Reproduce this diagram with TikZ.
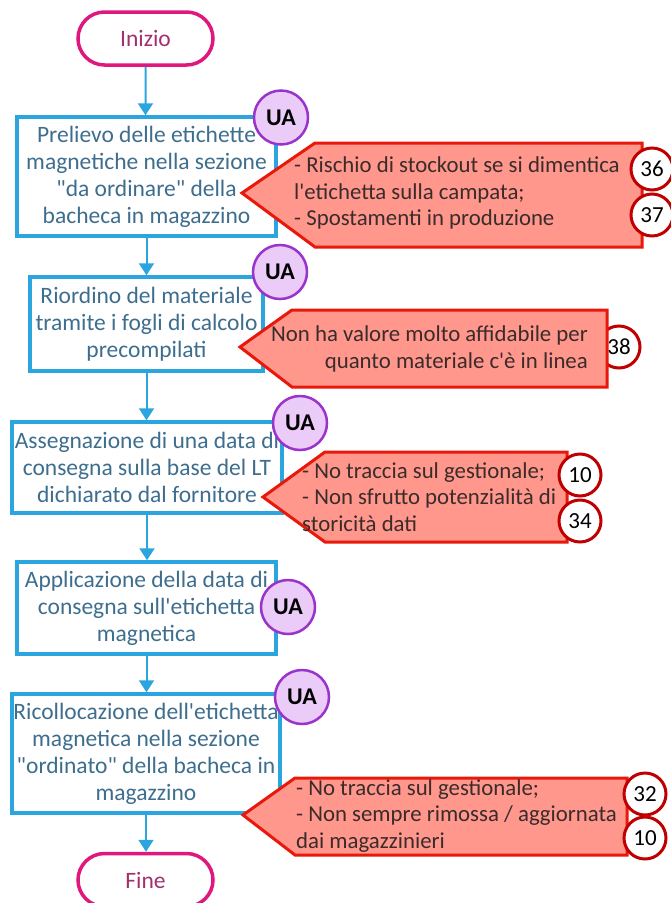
\documentclass[tikz,border=0pt]{standalone}
\usepackage{fontspec}
\setmainfont{Carlito}[Ligatures=TeXOff]
\usetikzlibrary{arrows.meta,shapes.misc}
\definecolor{boxblue}{HTML}{2AA5DF}
\definecolor{boxtext}{HTML}{3E6E8E}
\definecolor{termmag}{HTML}{E0177D}
\definecolor{termtext}{HTML}{A0306E}
\definecolor{uafill}{HTML}{EBCCF8}
\definecolor{uastroke}{HTML}{9933CC}
\definecolor{calfill}{HTML}{FF978C}
\definecolor{calred}{HTML}{E8190B}
\definecolor{caltext}{HTML}{3B2B2B}
\definecolor{numred}{HTML}{C00000}
\begin{document}
\begin{tikzpicture}[x=1pt,y=-1pt,
  stepbox/.style={draw=boxblue, line width=3.5pt, fill=white, text=boxtext, align=center, inner sep=0pt, font=\fontsize{23.5}{27}\selectfont},
  term/.style={draw=termmag, line width=3.5pt, fill=white, rounded rectangle, minimum width=135pt, minimum height=53pt, inner sep=0pt, text=termtext, font=\fontsize{23.5}{27}\selectfont},
  ua/.style={circle, draw=uastroke, fill=uafill, line width=2.5pt, minimum size=54pt, inner sep=0pt, font=\bfseries\fontsize{24}{28}\selectfont},
  num/.style={circle, draw=numred, fill=white, line width=3pt, minimum size=42pt, inner sep=0pt, font=\fontsize{23}{27}\selectfont},
  callout/.style={draw=calred, fill=calfill, line width=3pt, line join=miter},
  ctext/.style={text=caltext, inner sep=0pt, font=\fontsize{22.8}{26.5}\selectfont},
  flow/.style={draw=boxblue, line width=2pt, -{Triangle[width=15pt,length=12pt]}}
]
\useasboundingbox (0,0) rectangle (671,903);

% terminals and steps
\node[term] (start) at (145.5,38.5) {Inizio};
\node[stepbox, minimum width=259pt, minimum height=119pt] (s1) at (146.5,176.5) {Prelievo delle etichette\\magnetiche nella sezione\\"da ordinare" della\\bacheca in magazzino};
\node[stepbox, minimum width=233pt, minimum height=94pt] (s2) at (146.5,324) {Riordino del materiale\\tramite i fogli di calcolo\\precompilati};
\node[stepbox, minimum width=270pt, minimum height=91pt] (s3) at (147,467.5) {Assegnazione di una data di\\consegna sulla base del LT\\dichiarato dal fornitore};
\node[stepbox, minimum width=259pt, minimum height=92pt] (s4) at (146.5,608) {Applicazione della data di\\consegna sull'etichetta\\magnetica};
\node[stepbox, minimum width=268pt, minimum height=119pt] (s5) at (146,753.5) {Ricollocazione dell'etichetta\\magnetica nella sezione\\"ordinato" della bacheca in\\magazzino};
\node[term] (end) at (145.5,880) {Fine};

% connectors
\draw[flow] (start) -- (start |- s1.north);
\draw[flow] (s1) -- (s1 |- s2.north);
\draw[flow] (s2) -- (s2 |- s3.north);
\draw[flow] (s3) -- (s3 |- s4.north);
\draw[flow] (s4) -- (s4 |- s5.north);
\draw[flow] (s5) -- (s5 |- end.north);

% callout 1
\draw[callout] (242,193) -- (315,143) -- (642,143) -- (642,247) -- (315,247) -- cycle;
\node[ctext, anchor=west, align=left] (c1) at (294,193) {- Rischio di stockout se si dimentica\\l'etichetta sulla campata;\\- Spostamenti in produzione};
\node[num] (n36) at (652,169) {36};
\node[num] (n37) at (652,215) {37};

% callout 2 (circle behind)
\node[num] (n38) at (619,347) {38};
\draw[callout] (240,347) -- (292,310) -- (607,310) -- (607,387) -- (292,387) -- cycle;
\node[ctext, anchor=east, align=right] (c2) at (588,349) {Non ha valore molto affidabile per\\quanto materiale c'è in linea};

% callout 3
\draw[callout] (263,497) -- (325,452) -- (567,452) -- (567,542) -- (325,542) -- cycle;
\node[ctext, anchor=west, align=left] (c3) at (302,497) {- No traccia sul gestionale;\\- Non sfrutto potenzialità di\\storicità dati};
\node[num] (n10a) at (580,475) {10};
\node[num] (n34) at (580,521) {34};

% callout 5
\draw[callout] (243,815) -- (295,778) -- (627,778) -- (627,855) -- (295,855) -- cycle;
\node[ctext, anchor=west, align=left] (c5) at (296,816) {- No traccia sul gestionale;\\- Non sempre rimossa / aggiornata\\dai magazzinieri};
\node[num] (n32) at (645,794) {32};
\node[num] (n10b) at (645,838) {10};

% UA badges
\node[ua] (ua1) at (281,117.5) {UA};
\node[ua] (ua2) at (280,272) {UA};
\node[ua] (ua3) at (300,423) {UA};
\node[ua] (ua4) at (288,607) {UA};
\node[ua] (ua5) at (302,697) {UA};
\end{tikzpicture}
\end{document}
